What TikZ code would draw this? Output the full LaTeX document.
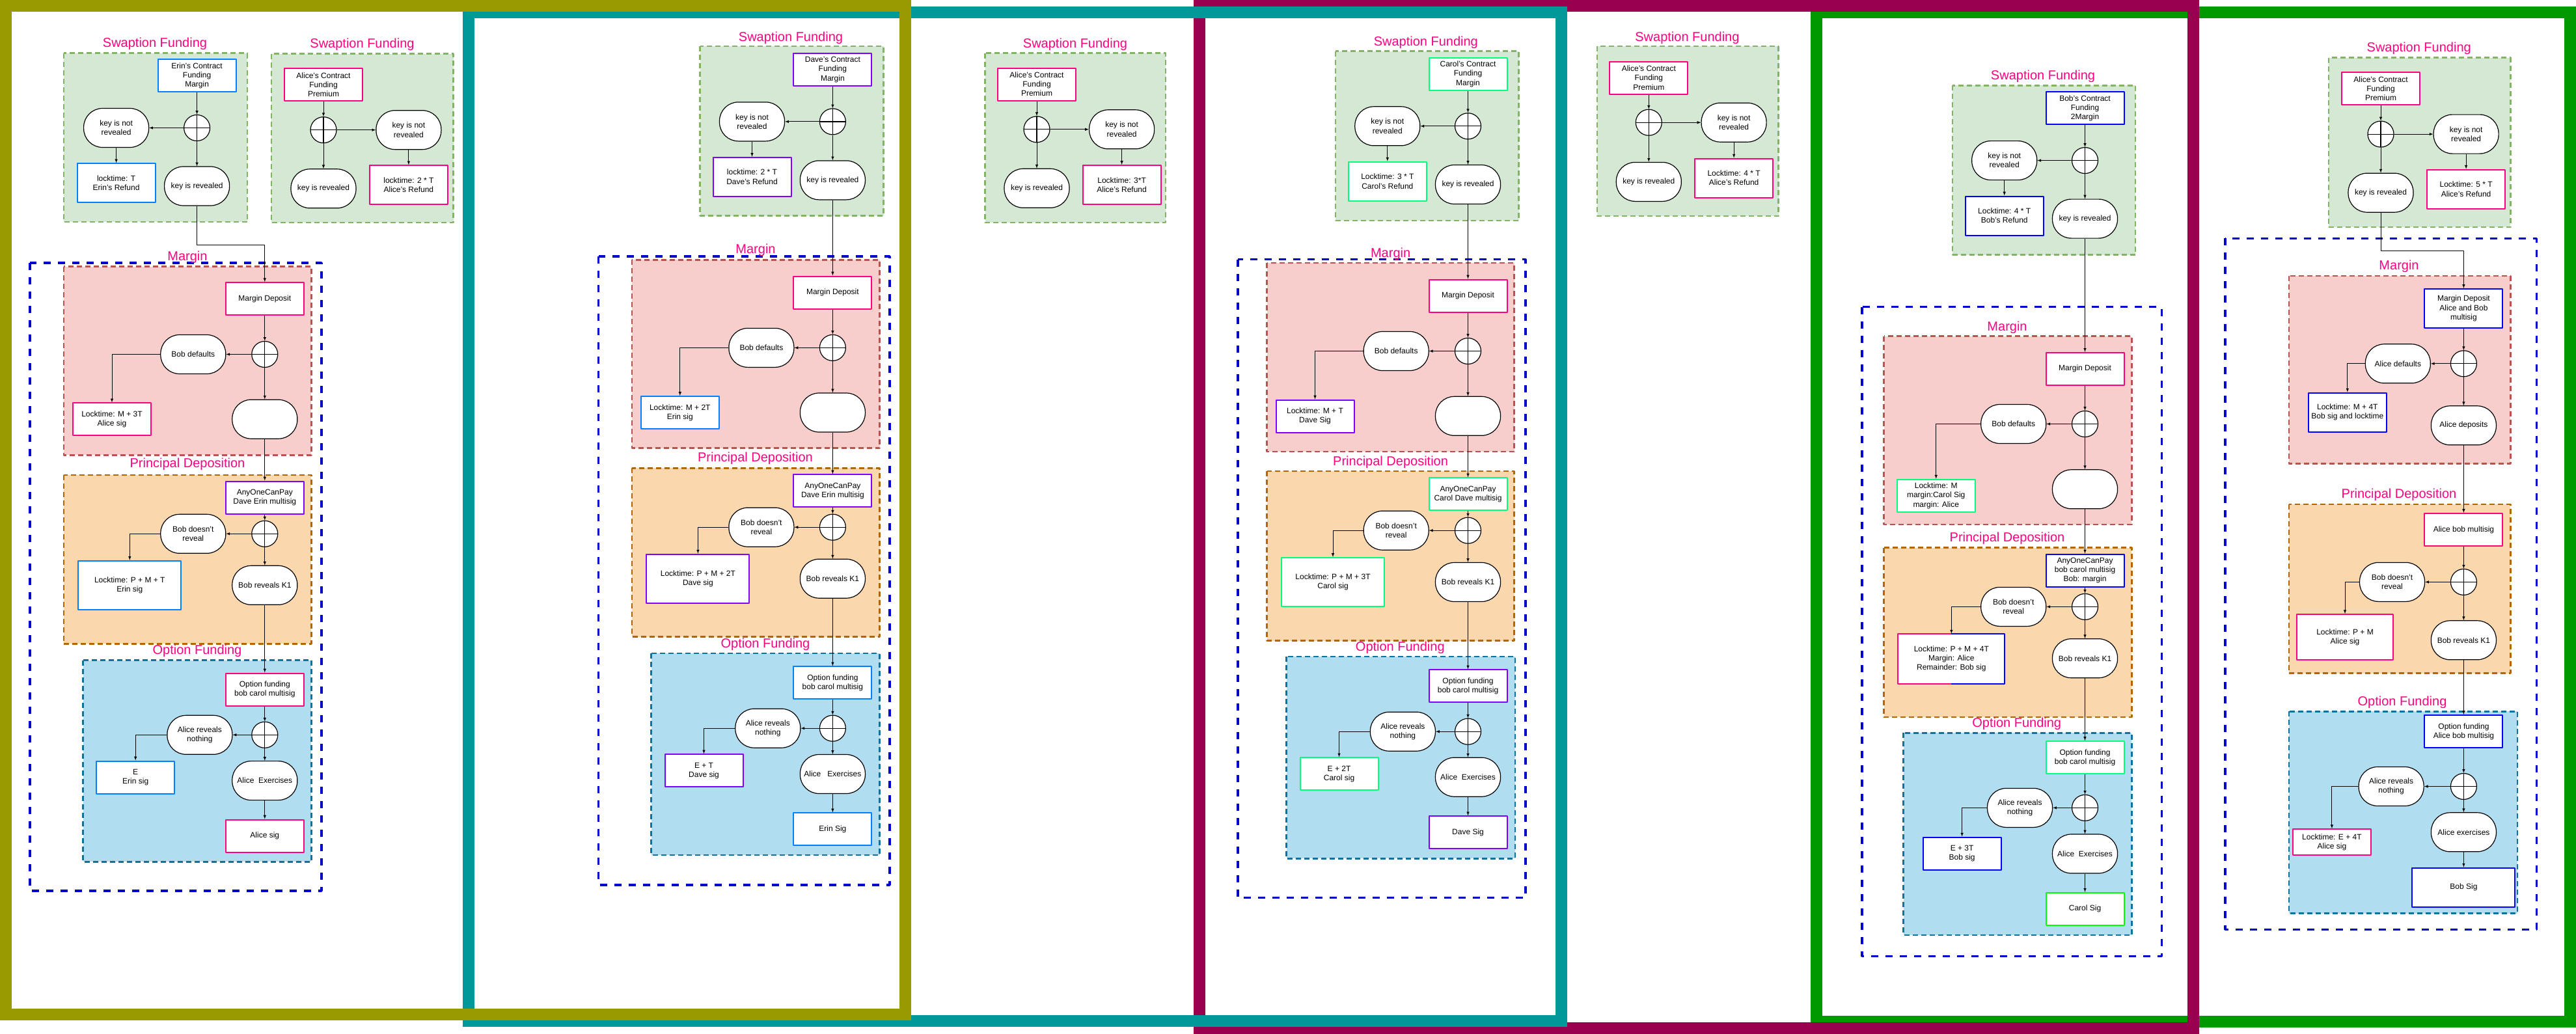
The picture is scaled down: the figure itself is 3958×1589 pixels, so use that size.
\documentclass[tikz,border=0pt]{standalone}
\usepackage{fontspec}
\setmainfont{Liberation Sans}
\definecolor{erinblue}{HTML}{007FFF}
\definecolor{alicepink}{HTML}{FF0080}
\definecolor{davepurple}{HTML}{7F00FF}
\definecolor{carolgreen}{HTML}{00FF80}
\definecolor{bobblue}{HTML}{0000FF}
\definecolor{brightgreen}{HTML}{00FF00}
\definecolor{titlepink}{HTML}{FF0080}
\definecolor{oliveframe}{HTML}{999900}
\definecolor{tealframe}{HTML}{009999}
\definecolor{maroonframe}{HTML}{99004D}
\definecolor{greenframe}{HTML}{009900}
\definecolor{swapfill}{HTML}{D5E8D4}
\definecolor{swapline}{HTML}{82B366}
\definecolor{marginfill}{HTML}{F8CECC}
\definecolor{marginline}{HTML}{B85450}
\definecolor{princfill}{HTML}{FAD7AC}
\definecolor{princline}{HTML}{B46504}
\definecolor{optfill}{HTML}{B1DDF0}
\definecolor{optline}{HTML}{10739E}
\definecolor{outerblue}{HTML}{0000CC}
\begin{document}
\begin{tikzpicture}[>=latex,line join=bevel,
  every node/.style={font=\fontsize{12bp}{14.2bp}\selectfont},
  txbox/.style={draw,line width=2bp,fill=white,align=center,minimum width=120bp,minimum height=50bp,inner sep=2bp},
  pill/.style={draw,line width=1.2bp,fill=white,align=center,minimum width=100bp,minimum height=60bp,rounded corners=29bp,inner sep=2bp},
  xorgate/.style={draw,line width=1.2bp,fill=white,circle,minimum size=40bp,inner sep=0pt,
    path picture={\draw[line width=1.2bp] (path picture bounding box.north) -- (path picture bounding box.south) (path picture bounding box.west) -- (path picture bounding box.east);}},
  zonetitle/.style={font=\fontsize{20bp}{24bp}\selectfont,text=titlepink},
  link/.style={->,line width=1bp},
  frame/.style={line width=18bp,line join=miter},
  outerzone/.style={draw=outerblue,line width=3.5bp,dash pattern=on 11bp off 11bp},
  swapzone/.style={fill=swapfill,draw=swapline,line width=2.5bp,dash pattern=on 8bp off 5bp},
  marginzone/.style={fill=marginfill,draw=marginline,line width=2.5bp,dash pattern=on 8bp off 5bp},
  princzone/.style={fill=princfill,draw=princline,line width=2.5bp,dash pattern=on 8bp off 5bp},
  optzone/.style={fill=optfill,draw=optline,line width=2.5bp,dash pattern=on 8bp off 5bp},
]
\useasboundingbox (0bp,0bp) rectangle (3958bp,-1589bp);
%% frames
\draw [frame,draw=greenframe] (2791bp,-19bp) rectangle (3949bp,-1570bp);
\draw [frame,draw=maroonframe] (1843bp,-9bp) rectangle (3370bp,-1580bp);
\draw [frame,draw=tealframe] (720bp,-19bp) rectangle (2398.5bp,-1569bp);
\draw [frame,draw=oliveframe] (9bp,-9bp) rectangle (1391bp,-1559bp);
%% Erin
\draw [outerzone] (46bp,-404bp) rectangle (494bp,-1369bp);
\draw [swapzone] (97.8bp,-81.7bp) rectangle (380bp,-341bp);
\draw [swapzone] (417bp,-82.6bp) rectangle (696.5bp,-342bp);
\draw [marginzone] (97.8bp,-409.5bp) rectangle (478.4bp,-699.3bp);
\draw [princzone] (97.8bp,-729.8bp) rectangle (478.4bp,-989.3bp);
\draw [optzone] (127.6bp,-1014.5bp) rectangle (478.4bp,-1324.4bp);
\node (erin_sw_title) at (238bp,-67.5bp) [zonetitle] {Swaption Funding};
\node (alice2_sw_title) at (556.5bp,-68.5bp) [zonetitle] {Swaption Funding};
\node (erin_m_title) at (288bp,-395bp) [zonetitle] {Margin};
\node (erin_p_title) at (288bp,-713bp) [zonetitle] {Principal Deposition};
\node (erin_o_title) at (303bp,-1000.7bp) [zonetitle] {Option Funding};
\node (erin_fund) at (302.6bp,-116.2bp) [txbox,draw=erinblue] {Erin's Contract\\Funding\\Margin};
\node (erin_xor) at (302.6bp,-196.5bp) [xorgate] {};
\node (erin_nokey) at (178.6bp,-196.5bp) [pill] {key is not\\revealed};
\node (erin_refund) at (178.6bp,-281.4bp) [txbox,draw=erinblue,minimum height=60bp] {locktime: T\\Erin's Refund};
\node (erin_key) at (302.6bp,-286bp) [pill] {key is revealed};
\node (alice2_fund) at (497bp,-130bp) [txbox,draw=alicepink] {Alice's Contract\\Funding\\Premium};
\node (alice2_xor) at (497bp,-199.7bp) [xorgate] {};
\node (alice2_nokey) at (627.9bp,-199.7bp) [pill] {key is not\\revealed};
\node (alice2_key) at (497bp,-289.8bp) [pill] {key is revealed};
\node (alice2_refund) at (627.9bp,-284.3bp) [txbox,draw=alicepink,minimum height=60bp] {locktime: 2 * T\\Alice's Refund};
\node (erin_mdep) at (406.8bp,-459.2bp) [txbox,draw=alicepink] {Margin Deposit};
\node (erin_mxor) at (406.8bp,-544.5bp) [xorgate] {};
\node (erin_mdef) at (296.8bp,-544.5bp) [pill] {Bob defaults};
\node (erin_mlock) at (172bp,-644.4bp) [txbox,draw=alicepink] {Locktime: M + 3T\\Alice sig};
\node (erin_mnone) at (406.8bp,-644.2bp) [pill] {};
\node (erin_pdep) at (406.8bp,-764.5bp) [txbox,draw=davepurple] {AnyOneCanPay\\Dave Erin multisig};
\node (erin_pxor) at (406.8bp,-820.3bp) [xorgate] {};
\node (erin_pdef) at (296.8bp,-820.3bp) [pill] {Bob doesn't\\reveal};
\node (erin_plock) at (199.3bp,-899.3bp) [txbox,draw=erinblue,minimum width=158bp,minimum height=75bp] {Locktime: P + M + T\\Erin sig};
\node (erin_pkey) at (406.8bp,-899.3bp) [pill] {Bob reveals K1};
\node (erin_odep) at (406.8bp,-1059.5bp) [txbox,draw=alicepink] {Option funding\\bob carol multisig};
\node (erin_oxor) at (406.8bp,-1129.3bp) [xorgate] {};
\node (erin_onone) at (306.9bp,-1129.3bp) [pill] {Alice reveals\\nothing};
\node (erin_olock) at (208.2bp,-1194.5bp) [txbox,draw=erinblue] {E\\Erin sig};
\node (erin_oex) at (406.8bp,-1199.6bp) [pill] {Alice\ \ Exercises};
\node (erin_osig) at (406.8bp,-1284.5bp) [txbox,draw=alicepink] {Alice sig};
\draw [link] (erin_fund) -- (erin_xor);
\draw [link] (erin_xor) -- (erin_nokey);
\draw [link] (erin_xor) -- (erin_key);
\draw [link] (erin_nokey) -- (erin_refund);
\draw [link] (alice2_fund) -- (alice2_xor);
\draw [link] (alice2_xor) -- (alice2_nokey);
\draw [link] (alice2_xor) -- (alice2_key);
\draw [link] (alice2_nokey) -- (alice2_refund);
\draw [link] (erin_key.south) -- ++(0bp,-59.6bp) -| (erin_mdep.north);
\draw [link] (erin_mdep) -- (erin_mxor);
\draw [link] (erin_mxor) -- (erin_mdef);
\draw [link] (erin_mxor) -- (erin_mnone);
\draw [link] (erin_mdef.west) -| (erin_mlock.north);
\draw [link] (erin_mnone) -- (erin_pdep);
\draw [link] (erin_pdep) -- (erin_pxor);
\draw [link] (erin_pxor) -- (erin_pdef);
\draw [link] (erin_pxor) -- (erin_pkey);
\draw [link] (erin_pdef.west) -| (erin_plock.north);
\draw [link] (erin_pkey) -- (erin_odep);
\draw [link] (erin_odep) -- (erin_oxor);
\draw [link] (erin_oxor) -- (erin_onone);
\draw [link] (erin_oxor) -- (erin_oex);
\draw [link] (erin_onone.west) -| (erin_olock.north);
\draw [link] (erin_oex) -- (erin_osig);
%% Dave
\draw [outerzone] (919.5bp,-394bp) rectangle (1367bp,-1359.8bp);
\draw [swapzone] (1075.6bp,-71.2bp) rectangle (1357.5bp,-331.5bp);
\draw [swapzone] (1513.5bp,-81.7bp) rectangle (1791bp,-342bp);
\draw [marginzone] (970.9bp,-399.4bp) rectangle (1351.5bp,-688.7bp);
\draw [princzone] (970.9bp,-719.3bp) rectangle (1351.5bp,-978.7bp);
\draw [optzone] (1000.7bp,-1004bp) rectangle (1351.5bp,-1313.9bp);
\node (dave_sw_title) at (1215bp,-57.9bp) [zonetitle] {Swaption Funding};
\node (alice3_sw_title) at (1652bp,-68bp) [zonetitle] {Swaption Funding};
\node (dave_m_title) at (1161bp,-384.8bp) [zonetitle] {Margin};
\node (dave_p_title) at (1160.5bp,-704.8bp) [zonetitle] {Principal Deposition};
\node (dave_o_title) at (1176bp,-990.2bp) [zonetitle] {Option Funding};
\node (dave_fund) at (1279.4bp,-107bp) [txbox,draw=davepurple] {Dave's Contract\\Funding\\Margin};
\node (dave_xor) at (1279.4bp,-186.9bp) [xorgate] {};
\node (dave_nokey) at (1155.5bp,-186.9bp) [pill] {key is not\\revealed};
\node (dave_refund) at (1155.5bp,-271.8bp) [txbox,draw=davepurple,minimum height=60bp] {locktime: 2 * T\\Dave's Refund};
\node (dave_key) at (1279.4bp,-276.9bp) [pill] {key is revealed};
\node (alice3_fund) at (1593bp,-129.5bp) [txbox,draw=alicepink] {Alice's Contract\\Funding\\Premium};
\node (alice3_xor) at (1593bp,-198.8bp) [xorgate] {};
\node (alice3_nokey) at (1723.6bp,-198.8bp) [pill] {key is not\\revealed};
\node (alice3_key) at (1593bp,-289.3bp) [pill] {key is revealed};
\node (alice3_refund) at (1723.6bp,-284bp) [txbox,draw=alicepink,minimum height=60bp] {Locktime: 3*T\\Alice's Refund};
\node (dave_mdep) at (1279.4bp,-449.5bp) [txbox,draw=alicepink] {Margin Deposit};
\node (dave_mxor) at (1279.4bp,-534.4bp) [xorgate] {};
\node (dave_mdef) at (1169.9bp,-534.4bp) [pill] {Bob defaults};
\node (dave_mlock) at (1044.8bp,-634bp) [txbox,draw=erinblue] {Locktime: M + 2T\\Erin sig};
\node (dave_mnone) at (1279.4bp,-634bp) [pill] {};
\node (dave_pdep) at (1279.4bp,-754.4bp) [txbox,draw=davepurple] {AnyOneCanPay\\Dave Erin multisig};
\node (dave_pxor) at (1279.4bp,-810.2bp) [xorgate] {};
\node (dave_pdef) at (1169.9bp,-810.2bp) [pill] {Bob doesn't\\reveal};
\node (dave_plock) at (1072.4bp,-889.2bp) [txbox,draw=davepurple,minimum width=158bp,minimum height=75bp] {Locktime: P + M + 2T\\Dave sig};
\node (dave_pkey) at (1279.4bp,-889.2bp) [pill] {Bob reveals K1};
\node (dave_odep) at (1279.4bp,-1049.4bp) [txbox,draw=erinblue] {Option funding\\bob carol multisig};
\node (dave_oxor) at (1279.4bp,-1119.2bp) [xorgate] {};
\node (dave_onone) at (1179.8bp,-1119.2bp) [pill] {Alice reveals\\nothing};
\node (dave_olock) at (1081.5bp,-1184.4bp) [txbox,draw=davepurple] {E + T\\Dave sig};
\node (dave_oex) at (1279.4bp,-1189.5bp) [pill] {Alice\ \ \ Exercises};
\node (dave_osig) at (1279.4bp,-1274.4bp) [txbox,draw=erinblue] {Erin Sig};
\draw [link] (dave_fund) -- (dave_xor);
\draw [link] (dave_xor) -- (dave_nokey);
\draw [link] (dave_xor) -- (dave_key);
\draw [link] (dave_nokey) -- (dave_refund);
\draw [link] (alice3_fund) -- (alice3_xor);
\draw [link] (alice3_xor) -- (alice3_nokey);
\draw [link] (alice3_xor) -- (alice3_key);
\draw [link] (alice3_nokey) -- (alice3_refund);
\draw [link] (dave_key) -- (dave_mdep);
\draw [link] (dave_mdep) -- (dave_mxor);
\draw [link] (dave_mxor) -- (dave_mdef);
\draw [link] (dave_mxor) -- (dave_mnone);
\draw [link] (dave_mdef.west) -| (dave_mlock.north);
\draw [link] (dave_mnone) -- (dave_pdep);
\draw [link] (dave_pdep) -- (dave_pxor);
\draw [link] (dave_pxor) -- (dave_pdef);
\draw [link] (dave_pxor) -- (dave_pkey);
\draw [link] (dave_pdef.west) -| (dave_plock.north);
\draw [link] (dave_pkey) -- (dave_odep);
\draw [link] (dave_odep) -- (dave_oxor);
\draw [link] (dave_oxor) -- (dave_onone);
\draw [link] (dave_oxor) -- (dave_oex);
\draw [link] (dave_onone.west) -| (dave_olock.north);
\draw [link] (dave_oex) -- (dave_osig);
%% Carol
\draw [outerzone] (1901.9bp,-398.5bp) rectangle (2343.9bp,-1379.5bp);
\draw [swapzone] (2051.8bp,-78.5bp) rectangle (2333.7bp,-338.8bp);
\draw [swapzone] (2454bp,-71.2bp) rectangle (2732.7bp,-332bp);
\draw [marginzone] (1946.6bp,-404bp) rectangle (2326.7bp,-694.2bp);
\draw [princzone] (1946.6bp,-723.9bp) rectangle (2326.7bp,-984.7bp);
\draw [optzone] (1976.5bp,-1009bp) rectangle (2328bp,-1319.4bp);
\node (carol_sw_title) at (2190.8bp,-65.2bp) [zonetitle] {Swaption Funding};
\node (alice4_sw_title) at (2592.4bp,-58.3bp) [zonetitle] {Swaption Funding};
\node (carol_m_title) at (2136.6bp,-390bp) [zonetitle] {Margin};
\node (carol_p_title) at (2136.6bp,-710bp) [zonetitle] {Principal Deposition};
\node (carol_o_title) at (2151.3bp,-995.2bp) [zonetitle] {Option Funding};
\node (carol_fund) at (2255.5bp,-113.7bp) [txbox,draw=carolgreen] {Carol's Contract\\Funding\\Margin};
\node (carol_xor) at (2255.5bp,-193.8bp) [xorgate] {};
\node (carol_nokey) at (2131.8bp,-193.8bp) [pill] {key is not\\revealed};
\node (carol_refund) at (2131.8bp,-278.7bp) [txbox,draw=carolgreen,minimum height=60bp] {Locktime: 3 * T\\Carol's Refund};
\node (carol_key) at (2255.5bp,-283.5bp) [pill] {key is revealed};
\node (alice4_fund) at (2533.3bp,-119.6bp) [txbox,draw=alicepink] {Alice's Contract\\Funding\\Premium};
\node (alice4_xor) at (2533.3bp,-188.2bp) [xorgate] {};
\node (alice4_nokey) at (2664.1bp,-188.2bp) [pill] {key is not\\revealed};
\node (alice4_key) at (2533.3bp,-279.4bp) [pill] {key is revealed};
\node (alice4_refund) at (2664.1bp,-273.6bp) [txbox,draw=alicepink,minimum height=60bp] {Locktime: 4 * T\\Alice's Refund};
\node (carol_mdep) at (2255.5bp,-454.5bp) [txbox,draw=alicepink] {Margin Deposit};
\node (carol_mxor) at (2255.5bp,-539.5bp) [xorgate] {};
\node (carol_mdef) at (2145.2bp,-539.5bp) [pill] {Bob defaults};
\node (carol_mlock) at (2020.5bp,-639.5bp) [txbox,draw=davepurple] {Locktime: M + T\\Dave Sig};
\node (carol_mnone) at (2255.5bp,-639.3bp) [pill] {};
\node (carol_pdep) at (2255.5bp,-759.4bp) [txbox,draw=carolgreen] {AnyOneCanPay\\Carol Dave multisig};
\node (carol_pxor) at (2255.5bp,-815.2bp) [xorgate] {};
\node (carol_pdef) at (2145.2bp,-815.2bp) [pill] {Bob doesn't\\reveal};
\node (carol_plock) at (2048bp,-894.5bp) [txbox,draw=carolgreen,minimum width=158bp,minimum height=75bp] {Locktime: P + M + 3T\\Carol sig};
\node (carol_pkey) at (2255.5bp,-894.5bp) [pill] {Bob reveals K1};
\node (carol_odep) at (2255.5bp,-1054.4bp) [txbox,draw=davepurple] {Option funding\\bob carol multisig};
\node (carol_oxor) at (2255.5bp,-1124.2bp) [xorgate] {};
\node (carol_onone) at (2155.4bp,-1124.2bp) [pill] {Alice reveals\\nothing};
\node (carol_olock) at (2057.5bp,-1189.4bp) [txbox,draw=carolgreen] {E + 2T\\Carol sig};
\node (carol_oex) at (2255.5bp,-1194.2bp) [pill] {Alice\ \ Exercises};
\node (carol_osig) at (2255.5bp,-1279.4bp) [txbox,draw=davepurple] {Dave Sig};
\draw [link] (carol_fund) -- (carol_xor);
\draw [link] (carol_xor) -- (carol_nokey);
\draw [link] (carol_xor) -- (carol_key);
\draw [link] (carol_nokey) -- (carol_refund);
\draw [link] (alice4_fund) -- (alice4_xor);
\draw [link] (alice4_xor) -- (alice4_nokey);
\draw [link] (alice4_xor) -- (alice4_key);
\draw [link] (alice4_nokey) -- (alice4_refund);
\draw [link] (carol_key) -- (carol_mdep);
\draw [link] (carol_mdep) -- (carol_mxor);
\draw [link] (carol_mxor) -- (carol_mdef);
\draw [link] (carol_mxor) -- (carol_mnone);
\draw [link] (carol_mdef.west) -| (carol_mlock.north);
\draw [link] (carol_mnone) -- (carol_pdep);
\draw [link] (carol_pdep) -- (carol_pxor);
\draw [link] (carol_pxor) -- (carol_pdef);
\draw [link] (carol_pxor) -- (carol_pkey);
\draw [link] (carol_pdef.west) -| (carol_plock.north);
\draw [link] (carol_pkey) -- (carol_odep);
\draw [link] (carol_odep) -- (carol_oxor);
\draw [link] (carol_oxor) -- (carol_onone);
\draw [link] (carol_oxor) -- (carol_oex);
\draw [link] (carol_onone.west) -| (carol_olock.north);
\draw [link] (carol_oex) -- (carol_osig);
%% Bob
\draw [outerzone] (2860.9bp,-471.5bp) rectangle (3321.3bp,-1469.3bp);
\draw [swapzone] (3000bp,-131.3bp) rectangle (3281bp,-391.6bp);
\draw [marginzone] (2894.7bp,-516.5bp) rectangle (3275.4bp,-806bp);
\draw [princzone] (2894.7bp,-841.7bp) rectangle (3275.4bp,-1102bp);
\draw [optzone] (2924.6bp,-1126.3bp) rectangle (3275.4bp,-1437bp);
\node (bob_sw_title) at (3139bp,-117bp) [zonetitle] {Swaption Funding};
\node (bob_m_title) at (3084bp,-503.7bp) [zonetitle] {Margin};
\node (bob_p_title) at (3084bp,-827.6bp) [zonetitle] {Principal Deposition};
\node (bob_o_title) at (3098.7bp,-1112.7bp) [zonetitle] {Option Funding};
\node (bob_fund) at (3203.5bp,-166.2bp) [txbox,draw=bobblue] {Bob's Contract\\Funding\\2Margin};
\node (bob_xor) at (3203.5bp,-246.6bp) [xorgate] {};
\node (bob_nokey) at (3079.7bp,-246.6bp) [pill] {key is not\\revealed};
\node (bob_refund) at (3079.7bp,-331.5bp) [txbox,draw=bobblue,minimum height=60bp] {Locktime: 4 * T\\Bob's Refund};
\node (bob_key) at (3203.5bp,-336.1bp) [pill] {key is revealed};
\node (bob_mdep) at (3203.5bp,-566.8bp) [txbox,draw=alicepink] {Margin Deposit};
\node (bob_mxor) at (3203.5bp,-651.5bp) [xorgate] {};
\node (bob_mdef) at (3093.7bp,-651.5bp) [pill] {Bob defaults};
\node (bob_mlock) at (2974.7bp,-761.7bp) [txbox,draw=carolgreen] {Locktime: M\\margin:Carol Sig\\margin: Alice};
\node (bob_mnone) at (3203.5bp,-751.8bp) [pill] {};
\node (bob_pdep) at (3203.5bp,-876.6bp) [txbox,draw=bobblue] {AnyOneCanPay\\bob carol multisig\\Bob: margin};
\node (bob_pxor) at (3203.5bp,-932.4bp) [xorgate] {};
\node (bob_pdef) at (3093.7bp,-932.4bp) [pill] {Bob doesn't\\reveal};
\node (bob_plock) at (2998.3bp,-1012.1bp) [txbox,draw=none,minimum width=162bp,minimum height=75bp] {Locktime: P + M + 4T\\Margin: Alice\\Remainder: Bob sig};
\node (bob_pkey) at (3203.5bp,-1011.7bp) [pill] {Bob reveals K1};
\node (bob_odep) at (3203.5bp,-1164bp) [txbox,draw=carolgreen] {Option funding\\bob carol multisig};
\node (bob_oxor) at (3203.5bp,-1241.4bp) [xorgate] {};
\node (bob_onone) at (3103.5bp,-1241.4bp) [pill] {Alice reveals\\nothing};
\node (bob_olock) at (3014.6bp,-1311.6bp) [txbox,draw=bobblue] {E + 3T\\Bob sig};
\node (bob_oex) at (3203.5bp,-1312bp) [pill] {Alice\ \ Exercises};
\node (bob_osig) at (3203.5bp,-1396.8bp) [txbox,draw=brightgreen] {Carol Sig};
\draw [line width=2bp,alicepink] (bob_plock.north) -| (bob_plock.south west) -- (bob_plock.south);
\draw [line width=2bp,bobblue] (bob_plock.north) -| (bob_plock.south east) -- (bob_plock.south);
\draw [link] (bob_fund) -- (bob_xor);
\draw [link] (bob_xor) -- (bob_nokey);
\draw [link] (bob_xor) -- (bob_key);
\draw [link] (bob_nokey) -- (bob_refund);
\draw [link] (bob_key) -- (bob_mdep);
\draw [link] (bob_mdep) -- (bob_mxor);
\draw [link] (bob_mxor) -- (bob_mdef);
\draw [link] (bob_mxor) -- (bob_mnone);
\draw [link] (bob_mdef.west) -| (bob_mlock.north);
\draw [link] (bob_mnone) -- (bob_pdep);
\draw [link] (bob_pdep) -- (bob_pxor);
\draw [link] (bob_pxor) -- (bob_pdef);
\draw [link] (bob_pxor) -- (bob_pkey);
\draw [link] (bob_pdef.west) -| (bob_plock.north);
\draw [link] (bob_pkey) -- (bob_odep);
\draw [link] (bob_odep) -- (bob_oxor);
\draw [link] (bob_oxor) -- (bob_onone);
\draw [link] (bob_oxor) -- (bob_oex);
\draw [link] (bob_onone.west) -| (bob_olock.north);
\draw [link] (bob_oex) -- (bob_osig);
%% Alice
\draw [outerzone] (3419.2bp,-366.4bp) rectangle (3897.2bp,-1428.5bp);
\draw [swapzone] (3578.2bp,-88.6bp) rectangle (3857.3bp,-349bp);
\draw [marginzone] (3517bp,-423.8bp) rectangle (3857.3bp,-712.5bp);
\draw [princzone] (3517bp,-774.8bp) rectangle (3857.3bp,-1034.5bp);
\draw [optzone] (3517bp,-1093.4bp) rectangle (3867.8bp,-1403.5bp);
\node (alice_sw_title) at (3716.7bp,-74.8bp) [zonetitle] {Swaption Funding};
\node (alice_m_title) at (3686bp,-409.5bp) [zonetitle] {Margin};
\node (alice_p_title) at (3686bp,-760.7bp) [zonetitle] {Principal Deposition};
\node (alice_o_title) at (3691bp,-1079.8bp) [zonetitle] {Option Funding};
\node (alice_fund) at (3658bp,-136.4bp) [txbox,draw=alicepink] {Alice's Contract\\Funding\\Premium};
\node (alice_xor) at (3658bp,-206.1bp) [xorgate] {};
\node (alice_nokey) at (3789.1bp,-206.1bp) [pill] {key is not\\revealed};
\node (alice_key) at (3658bp,-296.2bp) [pill] {key is revealed};
\node (alice_refund) at (3789.1bp,-290.7bp) [txbox,draw=alicepink,minimum height=60bp] {Locktime: 5 * T\\Alice's Refund};
\node (alice_mdep) at (3785.4bp,-474bp) [txbox,draw=bobblue,minimum height=60bp] {Margin Deposit\\Alice and Bob\\multisig};
\node (alice_mxor) at (3785.4bp,-558.8bp) [xorgate] {};
\node (alice_mdef) at (3684.3bp,-558.8bp) [pill] {Alice defaults};
\node (alice_mlock) at (3606.8bp,-633.6bp) [txbox,draw=bobblue,minimum height=60bp] {Locktime: M + 4T\\Bob sig and locktime};
\node (alice_mnone) at (3785.4bp,-653.8bp) [pill] {Alice deposits};
\node (alice_pdep) at (3785.4bp,-814bp) [txbox,draw=alicepink] {Alice bob multisig};
\node (alice_pxor) at (3785.4bp,-894.4bp) [xorgate] {};
\node (alice_pdef) at (3675.5bp,-894.4bp) [pill] {Bob doesn't\\reveal};
\node (alice_plock) at (3603bp,-979.2bp) [txbox,draw=alicepink,minimum width=148bp,minimum height=70bp] {Locktime: P + M\\Alice sig};
\node (alice_pkey) at (3785.4bp,-983.8bp) [pill] {Bob reveals K1};
\node (alice_odep) at (3785.4bp,-1124bp) [txbox,draw=bobblue] {Option funding\\Alice bob multisig};
\node (alice_oxor) at (3785.4bp,-1208.5bp) [xorgate] {};
\node (alice_onone) at (3674.1bp,-1208.5bp) [pill] {Alice reveals\\nothing};
\node (alice_olock) at (3582.9bp,-1294.2bp) [txbox,draw=alicepink,minimum height=40bp] {Locktime: E + 4T\\Alice sig};
\node (alice_oex) at (3785.4bp,-1278.8bp) [pill] {Alice exercises};
\node (alice_osig) at (3785.4bp,-1363.6bp) [txbox,draw=bobblue,minimum width=158bp,minimum height=60bp] {Bob Sig};
\draw [link] (alice_fund) -- (alice_xor);
\draw [link] (alice_xor) -- (alice_nokey);
\draw [link] (alice_xor) -- (alice_key);
\draw [link] (alice_nokey) -- (alice_refund);
\draw [link] (alice_key.south) -- ++(0bp,-58.6bp) -| (alice_mdep.north);
\draw [link] (alice_mdep) -- (alice_mxor);
\draw [link] (alice_mxor) -- (alice_mdef);
\draw [link] (alice_mxor) -- (alice_mnone);
\draw [link] (alice_mdef.west) -| (alice_mlock.north);
\draw [link] (alice_mnone) -- (alice_pdep);
\draw [link] (alice_pdep) -- (alice_pxor);
\draw [link] (alice_pxor) -- (alice_pdef);
\draw [link] (alice_pxor) -- (alice_pkey);
\draw [link] (alice_pdef.west) -| (alice_plock.north);
\draw [link] (alice_pkey) -- (alice_odep);
\draw [link] (alice_odep) -- (alice_oxor);
\draw [link] (alice_oxor) -- (alice_onone);
\draw [link] (alice_oxor) -- (alice_oex);
\draw [link] (alice_onone.west) -| (alice_olock.north);
\draw [link] (alice_oex) -- (alice_osig);
%
\end{tikzpicture}
\end{document}
